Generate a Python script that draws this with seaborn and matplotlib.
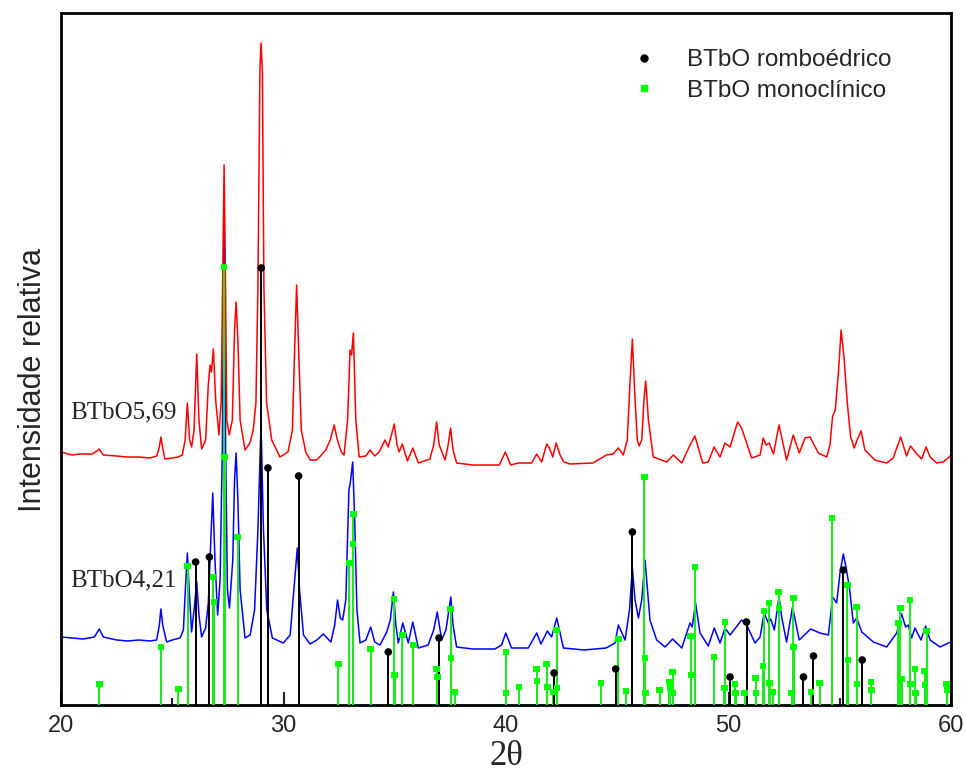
import numpy as np
import pandas as pd
import matplotlib
matplotlib.use("Agg")
import matplotlib.pyplot as plt
from matplotlib.lines import Line2D
from matplotlib.ticker import MultipleLocator
import seaborn as sns

# ---------------- data ----------------
red_x = [20.0, 20.5, 20.85, 21.4, 21.62, 21.71, 21.9, 22.5, 22.95, 23.5, 24.0, 24.3, 24.42, 24.49, 24.57, 24.67,
         25.0, 25.27, 25.45, 25.58, 25.68, 25.78, 25.87, 25.98, 26.1, 26.2, 26.32, 26.5, 26.62, 26.70, 26.76, 26.85,
         26.95, 27.1, 27.2, 27.28, 27.33, 27.38, 27.45, 27.56, 27.70, 27.80, 27.87, 27.95, 28.05, 28.27, 28.49, 28.64,
         28.76, 28.85, 28.94, 28.99, 29.05, 29.12, 29.24, 29.47, 29.84, 30.2, 30.4, 30.5, 30.59, 30.68, 30.8, 31.0,
         31.2, 31.5, 31.9, 32.1, 32.28, 32.42, 32.6, 32.72, 32.88, 32.99, 33.06, 33.14, 33.25, 33.4, 33.7, 33.89,
         34.1, 34.3, 34.45, 34.56, 34.7, 34.85, 34.98, 35.1, 35.2, 35.34, 35.57, 35.81, 36.06, 36.58, 36.75, 36.88,
         37.0, 37.26, 37.4, 37.51, 37.62, 37.78, 38.5, 39.7, 39.97, 40.21, 40.55, 41.15, 41.38, 41.6, 41.83, 41.95,
         42.1, 42.25, 42.43, 42.6, 42.88, 43.9, 44.52, 44.81, 45.05, 45.27, 45.45, 45.58, 45.68, 45.78, 45.9, 45.98,
         46.1, 46.2, 46.28, 46.4, 46.62, 47.22, 47.52, 47.9, 48.27, 48.49, 48.84, 49.09, 49.35, 49.62, 49.84, 50.07,
         50.41, 50.59, 51.04, 51.42, 51.56, 51.69, 51.83, 52.02, 52.27, 52.61, 52.91, 53.18, 53.44, 53.66, 54.04, 54.41,
         54.56, 54.68, 54.8, 54.95, 55.06, 55.19, 55.34, 55.49, 55.65, 55.78, 55.96, 56.13, 56.58, 57.11, 57.4, 57.74,
         58.0, 58.18, 58.43, 58.68, 58.88, 59.06, 59.36, 59.65, 59.92, 60.0]
red_y = [253, 250, 251, 251, 254, 256, 250, 249, 248, 248, 247, 249, 258, 268, 257, 246,
         247, 248, 250, 265, 302, 265, 258, 275, 351, 285, 256, 265, 320, 340, 333, 356,
         305, 270, 305, 452, 540, 452, 285, 270, 285, 375, 403, 365, 285, 255, 262, 275,
         302, 418, 635, 662, 635, 418, 302, 265, 248, 253, 275, 355, 420, 355, 275, 253,
         245, 245, 255, 265, 280, 265, 253, 250, 285, 355, 350, 372, 285, 248, 249, 255,
         249, 253, 260, 265, 258, 270, 281, 260, 253, 261, 244, 257, 242, 246, 260, 283,
         260, 245, 260, 277, 255, 242, 240, 240, 253, 240, 242, 242, 251, 243, 261, 257,
         248, 262, 250, 243, 241, 242, 250, 251, 257, 250, 265, 325, 366, 315, 265, 259,
         265, 305, 324, 285, 248, 243, 250, 242, 260, 269, 242, 243, 258, 248, 262, 258,
         283, 277, 247, 250, 267, 260, 262, 251, 280, 245, 270, 252, 267, 268, 252, 248,
         260, 289, 295, 335, 375, 348, 302, 268, 257, 265, 274, 255, 245, 242, 247, 268,
         249, 259, 252, 246, 258, 248, 242, 243, 248, 250]

blue_x = [20.0, 20.5, 21.0, 21.5, 21.72, 21.9, 22.5, 23.0, 23.5, 24.0, 24.3, 24.42, 24.49, 24.57, 24.75, 25.0,
          25.35, 25.5, 25.6, 25.68, 25.76, 25.87, 25.98, 26.1, 26.2, 26.32, 26.5, 26.62, 26.7, 26.82, 26.92, 27.04,
          27.15, 27.25, 27.33, 27.40, 27.48, 27.57, 27.72, 27.80, 27.87, 27.95, 28.05, 28.27, 28.5, 28.7, 28.85, 28.99,
          29.1, 29.25, 29.5, 29.99, 30.3, 30.5, 30.62, 30.72, 30.9, 31.19, 31.5, 31.79, 32.13, 32.3, 32.43, 32.55,
          32.66, 32.8, 32.94, 33.0, 33.11, 33.2, 33.3, 33.44, 33.7, 33.92, 34.1, 34.34, 34.64, 34.8, 34.94, 35.05,
          35.16, 35.36, 35.61, 35.81, 36.06, 36.5, 36.75, 36.91, 37.11, 37.3, 37.52, 37.62, 37.78, 38.5, 39.5, 39.8,
          39.99, 40.25, 41.0, 41.38, 41.57, 41.86, 42.05, 42.28, 42.58, 43.5, 44.5, 44.9, 45.05, 45.35, 45.55, 45.68,
          45.8, 45.95, 46.1, 46.25, 46.47, 46.77, 47.15, 47.49, 47.9, 48.27, 48.37, 48.52, 48.72, 49.09, 49.36, 49.62,
          49.84, 50.07, 50.59, 50.82, 51.19, 51.42, 51.6, 51.79, 51.9, 52.06, 52.27, 52.39, 52.61, 52.88, 53.18, 53.69,
          54.11, 54.49, 54.68, 54.86, 55.01, 55.16, 55.28, 55.43, 55.61, 55.76, 55.99, 56.51, 57.11, 57.56, 57.78, 57.96,
          58.08, 58.23, 58.38, 58.65, 58.86, 59.06, 59.51, 59.88, 60.0]
blue_y = [68, 67, 66, 68, 76, 68, 65, 64, 65, 64, 65, 80, 96, 80, 63, 65,
          67, 75, 120, 152, 115, 73, 95, 123, 90, 68, 77, 102, 145, 212, 145, 90,
          125, 255, 478, 255, 115, 97, 145, 225, 252, 205, 115, 67, 70, 95, 175, 281,
          175, 95, 67, 62, 70, 125, 157, 115, 70, 61, 65, 71, 63, 80, 105, 87,
          85, 105, 215, 222, 243, 185, 95, 62, 65, 78, 63, 60, 73, 85, 113, 80,
          62, 82, 62, 83, 57, 60, 75, 93, 65, 75, 108, 80, 58, 56, 56, 60,
          72, 57, 57, 72, 61, 74, 68, 87, 57, 55, 57, 62, 80, 65, 95, 137,
          105, 87, 105, 145, 85, 65, 58, 66, 57, 82, 78, 102, 72, 59, 77, 62,
          77, 70, 85, 80, 62, 68, 92, 82, 86, 75, 108, 88, 63, 98, 65, 76,
          72, 70, 108, 102, 132, 151, 138, 118, 82, 87, 73, 63, 58, 72, 91, 78,
          80, 67, 77, 65, 79, 65, 58, 62, 63]

rombo_pos = [26.05, 26.67, 29.0, 29.3, 30.68, 34.71, 36.99, 42.16, 44.93, 45.68,
             50.07, 50.81, 53.37, 53.82, 55.16, 56.01]
rombo_int = [143, 148, 437, 237, 229, 53, 67, 32, 36, 173,
             28, 83, 28, 49, 135, 45]

mono_pos = [21.72, 24.49, 25.27, 25.69, 26.83, 26.88, 27.33, 27.35, 27.94, 32.47, 32.96, 33.12, 33.14, 33.92,
            34.97, 34.99, 35.34, 35.84, 36.88, 36.92, 37.51, 37.53, 37.71, 39.99, 40.01, 40.58, 41.38, 41.40,
            41.83, 41.86, 42.13, 42.28, 42.30, 44.26, 45.05, 45.39, 46.22, 46.24, 46.26, 46.90, 47.34, 47.36,
            47.49, 47.51, 48.30, 48.32, 48.49, 49.35, 49.84, 49.82, 50.30, 50.32, 50.73, 51.22, 51.24, 51.56,
            51.60, 51.83, 51.85, 51.98, 52.25, 52.27, 52.84, 52.91, 52.93, 53.71, 54.10, 54.66, 55.34, 55.36,
            55.76, 55.78, 56.40, 56.42, 57.64, 57.72, 57.78, 58.15, 58.17, 58.39, 58.41, 58.82, 58.84, 58.90,
            59.80, 59.82]
mono_int = [21, 58, 16, 139, 128, 103, 438, 248, 168, 41, 142, 161, 191, 56,
            106, 30, 70, 60, 36, 28, 96, 47, 13, 53, 12, 18, 36, 24,
            41, 18, 13, 75, 17, 22, 66, 14, 228, 47, 12, 15, 23, 17,
            33, 12, 69, 30, 138, 48, 83, 17, 21, 12, 12, 27, 12, 39,
            94, 102, 22, 13, 113, 97, 12, 107, 58, 13, 22, 187, 120, 45,
            98, 21, 23, 15, 82, 97, 26, 105, 21, 36, 12, 34, 20, 74,
            21, 15]

sample_labels = ["BTbO5,69", "BTbO4,21"]
legend_labels = ["BTbO romboédrico", "BTbO monoclínico"]
x_ticks = [20, 30, 40, 50, 60]

# ---------------- styling ----------------
sns.set_style("white")
plt.rcParams["font.family"] = ["Liberation Sans", "DejaVu Sans"]

fig = plt.figure(figsize=(9.66, 7.73), dpi=100)
ax = fig.add_axes([61 / 966, 1 - 705 / 773, 890 / 966, 692 / 773])

red_df = pd.DataFrame({"x": red_x, "y": red_y})
blue_df = pd.DataFrame({"x": blue_x, "y": blue_y})
sns.lineplot(data=blue_df, x="x", y="y", ax=ax, color="#0000FF", lw=1.1, sort=False, estimator=None, zorder=2)
sns.lineplot(data=red_df, x="x", y="y", ax=ax, color="#FF0000", lw=1.1, sort=False, estimator=None, zorder=2)

green_line = "#22E622"
green_mark = "#00FF00"
ax.vlines(mono_pos, 0, mono_int, color=green_line, lw=1.5, zorder=3)
ax.vlines(rombo_pos, 0, rombo_int, color="black", lw=1.4, zorder=3)
sns.scatterplot(x=mono_pos, y=mono_int, ax=ax, marker="s", s=22, color=green_mark, edgecolor="none", zorder=4)
sns.scatterplot(x=rombo_pos, y=rombo_int, ax=ax, marker="o", s=30, color="black", edgecolor="none", zorder=4)

ax.set_xlim(20, 60)
ax.set_ylim(0, 692)
ax.set_xticks(x_ticks)
ax.xaxis.set_minor_locator(MultipleLocator(5))
ax.set_yticks([])
ax.tick_params(axis="x", which="major", direction="in", length=9.5, width=1.5, labelsize=17, pad=7,
               bottom=True, top=False)
ax.tick_params(axis="x", which="minor", direction="in", length=5, width=1.5, bottom=True, top=False)
for sp in ax.spines.values():
    sp.set_linewidth(2)
    sp.set_color("black")
    sp.set_visible(True)

ax.set_xlabel("2θ", fontsize=25, family=["Liberation Serif", "DejaVu Serif"])
ax.xaxis.set_label_coords(0.5, -0.05)
ax.set_ylabel("Intensidade relativa", fontsize=22)
ax.yaxis.set_label_coords(-0.015, 0.47)

ax.text(20.4, 293, sample_labels[0], fontsize=18, family=["Liberation Serif", "DejaVu Serif"],
        ha="left", va="center")
ax.text(20.4, 125, sample_labels[1], fontsize=18, family=["Liberation Serif", "DejaVu Serif"],
        ha="left", va="center")

handles = [Line2D([], [], ls="none", marker="o", markersize=5, color="black"),
           Line2D([], [], ls="none", marker="s", markersize=4.5, color=green_mark)]
ax.legend(handles, legend_labels, loc="upper left", bbox_to_anchor=(0.6165, 0.979), frameon=False,
          fontsize=17.5, handlelength=1.0, handletextpad=1.3, labelspacing=0.35, borderpad=0.4)

fig.savefig("out.png", dpi=100)
